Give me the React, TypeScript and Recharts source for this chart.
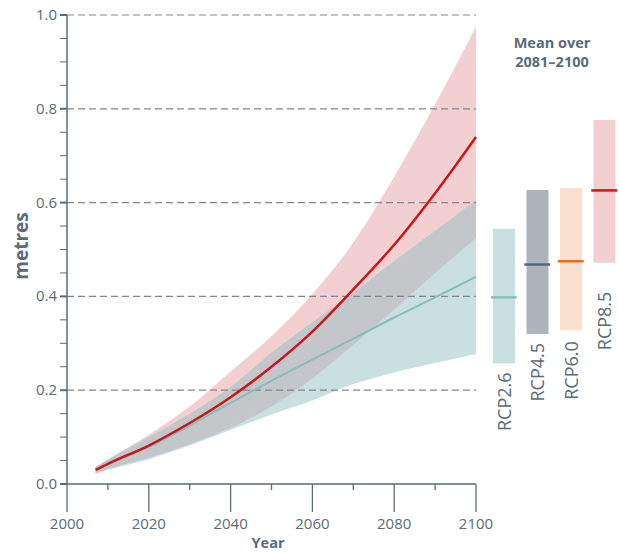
import {
  ComposedChart,
  Area,
  Line,
  Bar,
  Scatter,
  Cell,
  LabelList,
  XAxis,
  YAxis,
  ReferenceLine,
  Label,
} from 'recharts';

// projected global mean sea level rise (metres) relative to 1986-2005
const YEARS = [2007, 2010, 2020, 2030, 2040, 2050, 2060, 2070, 2080, 2090, 2100];
const RCP85_MEAN = [0.03, 0.043, 0.082, 0.13, 0.185, 0.25, 0.325, 0.415, 0.51, 0.62, 0.74];
const RCP85_LOW = [0.023, 0.032, 0.056, 0.085, 0.12, 0.165, 0.225, 0.297, 0.372, 0.45, 0.524];
const RCP85_HIGH = [0.036, 0.052, 0.105, 0.165, 0.24, 0.315, 0.405, 0.515, 0.655, 0.81, 0.975];
const RCP26_MEAN = [0.03, 0.042, 0.079, 0.125, 0.173, 0.22, 0.265, 0.31, 0.355, 0.398, 0.442];
const RCP26_LOW = [0.022, 0.03, 0.053, 0.082, 0.115, 0.148, 0.178, 0.213, 0.238, 0.258, 0.277];
const RCP26_HIGH = [0.036, 0.052, 0.1, 0.15, 0.207, 0.28, 0.345, 0.408, 0.475, 0.54, 0.605];

// mean over 2081-2100
const SCENARIOS = ['RCP2.6', 'RCP4.5', 'RCP6.0', 'RCP8.5'];
const SC_LOW = [0.257, 0.32, 0.328, 0.472];
const SC_HIGH = [0.544, 0.627, 0.631, 0.776];
const SC_MEAN = [0.398, 0.468, 0.475, 0.626];

const X_TICKS = [2000, 2010, 2020, 2030, 2040, 2050, 2060, 2070, 2080, 2090, 2100];
const Y_TICKS = [0, 0.05, 0.1, 0.15, 0.2, 0.25, 0.3, 0.35, 0.4, 0.45, 0.5, 0.55, 0.6, 0.65, 0.7, 0.75, 0.8, 0.85, 0.9, 0.95, 1.0];
const GRID_VALUES = [0.2, 0.4, 0.6, 0.8, 1.0];

const SC_FILL = ['#c9dfe0', '#adb5bc', '#fbe0d0', '#f2cfd1'];
const SC_MARK = ['#8fbcbc', '#566a77', '#ec6a1c', '#c8161d'];
const SC_LABEL_GAP = [9, 9, 11, 29];

const INK = '#5b6b77';
const FONT = '"Open Sans", "Noto Sans", sans-serif';

const seriesData = YEARS.map((year, i) => ({
  year,
  r85: RCP85_MEAN[i],
  r85Band: [RCP85_LOW[i], RCP85_HIGH[i]],
  r26: RCP26_MEAN[i],
  r26Band: [RCP26_LOW[i], RCP26_HIGH[i]],
  overlap: [Math.max(RCP85_LOW[i], RCP26_LOW[i]), Math.min(RCP85_HIGH[i], RCP26_HIGH[i])],
}));

const scenarioData = SCENARIOS.map((name, i) => ({
  name,
  range: [SC_LOW[i], SC_HIGH[i]],
  mean: SC_MEAN[i],
}));

function XTick({ x, y, payload }: any) {
  const major = payload.value % 20 === 0;
  return (
    <g>
      <line x1={x} y1={y} x2={x} y2={y + (major ? 28 : 6)} stroke={INK} strokeWidth={1.3} />
      {major && (
        <text x={x} y={y + 45} textAnchor="middle" fill={INK} fontSize={15} fontFamily={FONT}>
          {payload.value}
        </text>
      )}
    </g>
  );
}

function YTick({ x, y, payload }: any) {
  const v = payload.value;
  const major = Math.abs(v * 5 - Math.round(v * 5)) < 1e-6;
  return (
    <g>
      <line x1={x - 7} y1={y} x2={x} y2={y} stroke={INK} strokeWidth={major ? 2 : 1} />
      {major && (
        <text x={x - 10} y={y + 5} textAnchor="end" fill={INK} fontSize={15} fontFamily={FONT}>
          {v.toFixed(1)}
        </text>
      )}
    </g>
  );
}

function MeanMark({ cx, cy, payload }: any) {
  const i = SCENARIOS.indexOf(payload.name);
  return <line x1={cx - 13} y1={cy} x2={cx + 13} y2={cy} stroke={SC_MARK[i]} strokeWidth={2.5} />;
}

function ScenarioLabel({ x, y, width, height, value }: any) {
  const i = SCENARIOS.indexOf(value);
  const cx = x + width / 2;
  const top = Math.max(y, y + height) + SC_LABEL_GAP[i];
  return (
    <text
      x={cx}
      y={top}
      transform={`rotate(-90 ${cx} ${top})`}
      textAnchor="end"
      dominantBaseline="central"
      fill={INK}
      fontSize={18}
      fontFamily={FONT}
    >
      {value}
    </text>
  );
}

export default function App() {
  return (
    <div style={{ position: 'absolute', left: 0, top: 0, width: 619, height: 553, background: '#fff', fontFamily: FONT }}>
      <ComposedChart
        width={619}
        height={553}
        data={seriesData}
        margin={{ top: 15, right: 143, bottom: 0, left: 0 }}
      >
        <XAxis
          dataKey="year"
          type="number"
          domain={[2000, 2100]}
          ticks={X_TICKS}
          interval={0}
          tickSize={0}
          tickMargin={0}
          tick={<XTick />}
          height={69}
          stroke={INK}
          strokeWidth={1.3}
        >
          <Label
            content={() => (
              <text x={268} y={548} textAnchor="middle" fill={INK} fontSize={14.5} fontWeight={700} fontFamily={FONT}>
                Year
              </text>
            )}
          />
        </XAxis>
        <YAxis
          type="number"
          domain={[0, 1]}
          ticks={Y_TICKS}
          interval={0}
          tickSize={0}
          tickMargin={0}
          tick={<YTick />}
          width={67}
          stroke={INK}
          strokeWidth={1.5}
        >
          <Label
            content={() => (
              <text
                x={21}
                y={246}
                transform="rotate(-90 21 246)"
                textAnchor="middle"
                dominantBaseline="central"
                fill={INK}
                fontSize={19}
                fontWeight={700}
                fontFamily={FONT}
              >
                metres
              </text>
            )}
          />
        </YAxis>
        {GRID_VALUES.map((v) => (
          <ReferenceLine key={v} y={v} stroke="#7d8891" strokeDasharray="7 4" strokeWidth={1.2} />
        ))}
        <Area dataKey="r85Band" type="monotone" fill="#f2cfd0" fillOpacity={1} stroke="none" isAnimationActive={false} />
        <Area dataKey="r26Band" type="monotone" fill="#c9dfe0" fillOpacity={1} stroke="none" isAnimationActive={false} />
        <Area dataKey="overlap" type="monotone" fill="#c4c7ca" fillOpacity={1} stroke="none" isAnimationActive={false} />
        <Line dataKey="r26" type="monotone" stroke="#8dbaba" strokeWidth={2} dot={false} isAnimationActive={false} />
        <Line dataKey="r85" type="monotone" stroke="#c8161d" strokeWidth={2.5} dot={false} isAnimationActive={false} />
      </ComposedChart>

      <div style={{ position: 'absolute', left: 487, top: 0 }}>
        <ComposedChart
          width={134}
          height={553}
          data={scenarioData}
          margin={{ top: 15, right: 0, bottom: 69, left: 0 }}
        >
          <XAxis dataKey="name" type="category" hide />
          <YAxis type="number" domain={[0, 1]} hide />
          <Bar dataKey="range" barSize={22} isAnimationActive={false}>
            {scenarioData.map((d, i) => (
              <Cell key={d.name} fill={SC_FILL[i]} />
            ))}
            <LabelList dataKey="name" content={<ScenarioLabel />} />
          </Bar>
          <Scatter dataKey="mean" shape={<MeanMark />} isAnimationActive={false} />
        </ComposedChart>
      </div>

      <svg width={619} height={553} style={{ position: 'absolute', left: 0, top: 0, pointerEvents: 'none' }}>
        <text x={552} y={48} textAnchor="middle" fill={INK} fontSize={14.5} fontWeight={700} fontFamily={FONT}>
          Mean over
        </text>
        <text x={552} y={67} textAnchor="middle" fill={INK} fontSize={14.5} fontWeight={700} fontFamily={FONT}>
          2081–2100
        </text>
      </svg>
    </div>
  );
}
